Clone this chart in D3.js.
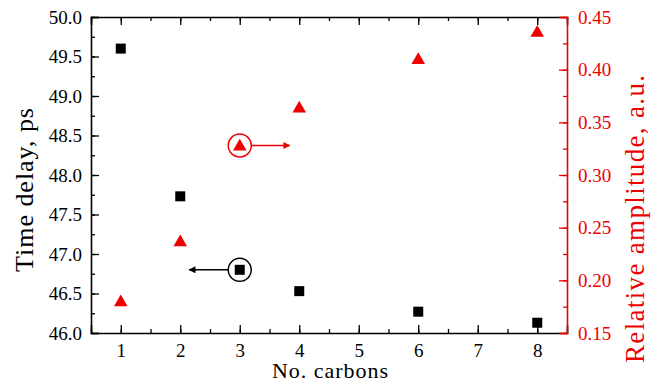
<!DOCTYPE html>
<html>
<head>
<meta charset="utf-8">
<script src="https://cdn.jsdelivr.net/npm/d3@7"></script>
<style>
body { margin: 0; background: #fff; }
svg text { font-family: "Liberation Serif", "DejaVu Serif", serif !important; }
</style>
</head>
<body>
<div class="chart"></div>
<script>
const carbons = [1, 2, 3, 4, 6, 8];
const delay = [49.6, 47.73, 46.8, 46.53, 46.27, 46.13];
const amplitude = [0.18, 0.237, 0.328, 0.364, 0.41, 0.436];
const xTicks = [1, 2, 3, 4, 5, 6, 7, 8];
const leftTicks = [46.0, 46.5, 47.0, 47.5, 48.0, 48.5, 49.0, 49.5, 50.0];
const rightTicks = [0.15, 0.20, 0.25, 0.30, 0.35, 0.40, 0.45];

const w = 652, h = 383;
const m = {left: 91, right: 85, top: 17, bottom: 50};
const red = '#ee0000';

const svg = d3.select('div.chart').append('svg')
  .attr('width', w).attr('height', h);

const x = d3.scaleLinear().domain([0.5, 8.5]).range([m.left, w - m.right]);
const yL = d3.scaleLinear().domain([46, 50]).range([h - m.bottom, m.top]);
const yR = d3.scaleLinear().domain([0.15, 0.45]).range([h - m.bottom, m.top]);

// axes, ticks inward
const xMinor = d3.range(0.5, 8.51, 0.5);
svg.append('g').attr('transform', 'translate(0,' + (h - m.bottom) + ')')
  .call(d3.axisBottom(x).tickValues(xMinor).tickSize(-4).tickFormat(''))
  .call(g => g.select('.domain').remove());
svg.append('g').attr('transform', 'translate(0,' + (h - m.bottom) + ')')
  .call(d3.axisBottom(x).tickValues(xTicks).tickSize(-8).tickPadding(11).tickFormat(d3.format('d')));
svg.append('g').attr('transform', 'translate(0,' + m.top + ')')
  .call(d3.axisTop(x).tickValues(xMinor).tickSize(-4).tickFormat(''))
  .call(g => g.select('.domain').remove());
svg.append('g').attr('transform', 'translate(0,' + m.top + ')')
  .call(d3.axisTop(x).tickValues(xTicks).tickSize(-8).tickFormat(''));

svg.append('g').attr('transform', 'translate(' + m.left + ',0)')
  .call(d3.axisLeft(yL).tickValues(d3.range(46, 50.01, 0.25)).tickSize(-4).tickFormat(''))
  .call(g => g.select('.domain').remove());
svg.append('g').attr('transform', 'translate(' + m.left + ',0)')
  .call(d3.axisLeft(yL).tickValues(leftTicks).tickSize(-8).tickPadding(9).tickFormat(d3.format('.1f')));

const gR0 = svg.append('g').attr('class', 'ra').attr('transform', 'translate(' + (w - m.right) + ',0)')
  .call(d3.axisRight(yR).tickValues(d3.range(0.15, 0.451, 0.025)).tickSize(-4).tickFormat(''));
gR0.select('.domain').remove();
gR0.selectAll('line').attr('stroke', red);
const gR = svg.append('g').attr('class', 'ra').attr('transform', 'translate(' + (w - m.right) + ',0)')
  .call(d3.axisRight(yR).tickValues(rightTicks).tickSize(-8).tickPadding(11).tickFormat(d3.format('.2f')));
gR.selectAll('line').attr('stroke', red);
gR.select('.domain').attr('stroke', red);
gR.selectAll('text').attr('fill', red);

svg.selectAll('.domain').filter(function() { return !this.parentNode.classList.contains('ra'); })
  .attr('stroke', '#000');
svg.selectAll('.domain').attr('stroke-width', 1.6);
svg.selectAll('.tick line').attr('stroke-width', 1.3);
svg.selectAll('g').attr('font-size', 19);

// axis titles
svg.append('text').attr('x', 330).attr('y', 378)
  .attr('text-anchor', 'middle').attr('font-size', 22)
  .attr('textLength', 116).attr('lengthAdjust', 'spacing').text('No. carbons');
svg.append('text').attr('transform', 'translate(33,190) rotate(-90)')
  .attr('text-anchor', 'middle').attr('font-size', 26)
  .attr('textLength', 164).attr('lengthAdjust', 'spacing').text('Time delay, ps');
svg.append('text').attr('transform', 'translate(644,219) rotate(-90)')
  .attr('text-anchor', 'middle').attr('font-size', 27).attr('fill', red)
  .attr('textLength', 288).attr('lengthAdjust', 'spacing').text('Relative amplitude, a.u.');

// markers
const sq = 10;
svg.selectAll('rect.pt').data(carbons).enter().append('rect').attr('class', 'pt')
  .attr('x', (d) => x(d) - sq / 2)
  .attr('y', (d, i) => yL(delay[i]) - sq / 2)
  .attr('width', sq).attr('height', sq).attr('fill', '#000');

const tri = d3.symbol().type(d3.symbolTriangle).size(80);
svg.selectAll('path.tri').data(carbons).enter().append('path').attr('class', 'tri')
  .attr('d', tri)
  .attr('transform', (d, i) => 'translate(' + x(d) + ',' + (yR(amplitude[i]) + 1) + ')')
  .attr('fill', red);

// circled markers with arrows pointing to their axis
const defs = svg.append('defs');
[['ah-red', red], ['ah-black', '#000']].forEach(([id, c]) => {
  defs.append('marker').attr('id', id).attr('viewBox', '0 0 10 10')
    .attr('refX', 9).attr('refY', 5).attr('markerWidth', 13).attr('markerHeight', 7)
    .attr('markerUnits', 'userSpaceOnUse').attr('orient', 'auto')
    .append('path').attr('d', 'M0,0 L10,5 L0,10 z').attr('fill', c);
});
const r = 11.5;
const ci = 2;
svg.append('circle').attr('cx', x(carbons[ci])).attr('cy', yR(amplitude[ci]))
  .attr('r', r).attr('fill', 'none').attr('stroke', red).attr('stroke-width', 1.5);
svg.append('line').attr('x1', x(carbons[ci]) + r).attr('x2', x(3.84))
  .attr('y1', yR(amplitude[ci])).attr('y2', yR(amplitude[ci]))
  .attr('stroke', red).attr('stroke-width', 1.5).attr('marker-end', 'url(#ah-red)');
svg.append('circle').attr('cx', x(carbons[ci])).attr('cy', yL(delay[ci]))
  .attr('r', r).attr('fill', 'none').attr('stroke', '#000').attr('stroke-width', 1.5);
svg.append('line').attr('x1', x(carbons[ci]) - r).attr('x2', x(2.15))
  .attr('y1', yL(delay[ci])).attr('y2', yL(delay[ci]))
  .attr('stroke', '#000').attr('stroke-width', 1.5).attr('marker-end', 'url(#ah-black)');
</script>
</body>
</html>
